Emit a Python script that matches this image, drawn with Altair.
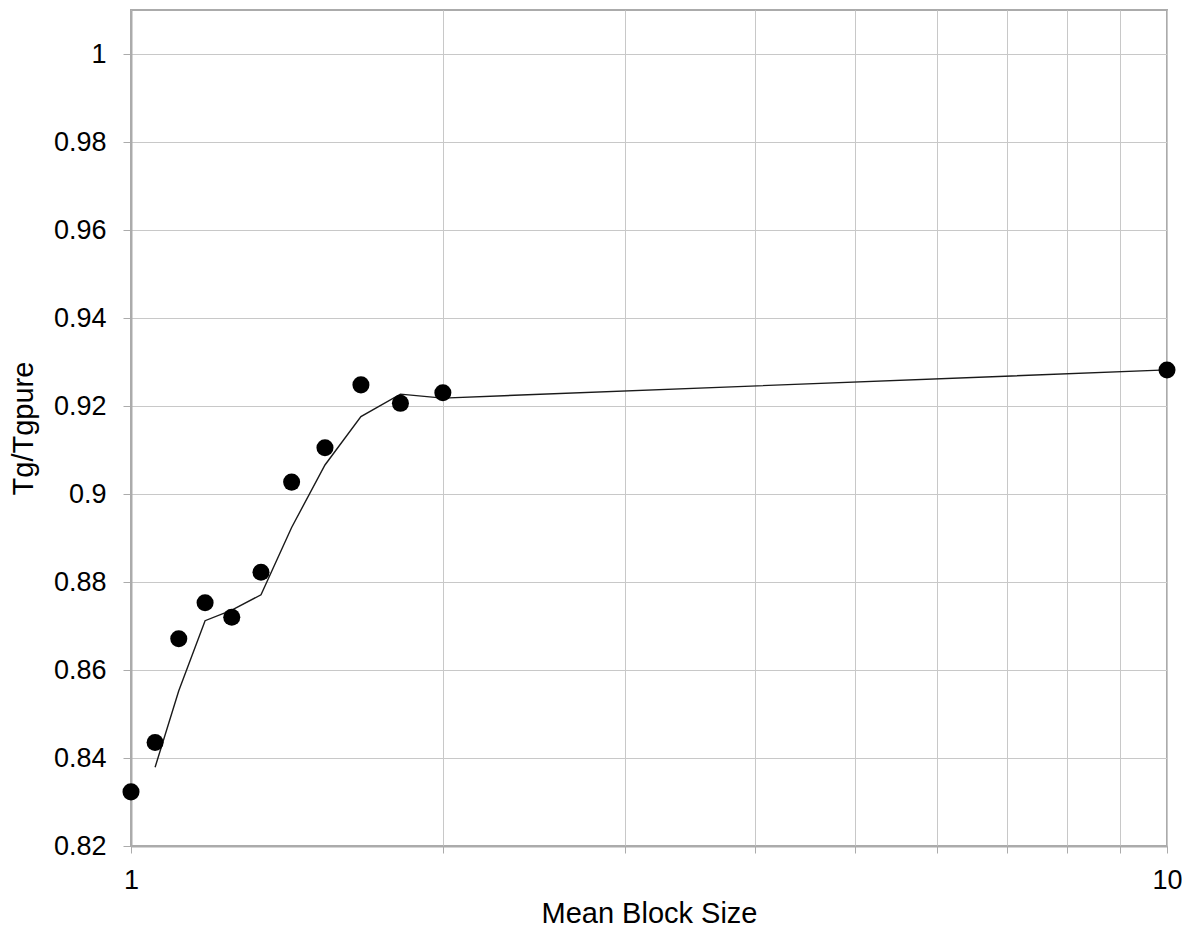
import altair as alt
import pandas as pd

# Measured data points (Mean Block Size vs Tg/Tgpure)
block_size = [1.0, 1.055, 1.112, 1.179, 1.251, 1.335, 1.429, 1.539, 1.667, 1.820, 2.0, 10.0]
tg_ratio = [0.8323, 0.8435, 0.8671, 0.8753, 0.8720, 0.8822, 0.9027, 0.9105, 0.9248, 0.9206, 0.9230, 0.9282]

# Trend line vertices
trend_x = [1.055, 1.112, 1.179, 1.251, 1.335, 1.429, 1.539, 1.667, 1.820, 2.0, 10.0]
trend_y = [0.8379, 0.8553, 0.8712, 0.8736, 0.8771, 0.8924, 0.9066, 0.9176, 0.9227, 0.9218, 0.9282]

y_ticks = [0.82, 0.84, 0.86, 0.88, 0.90, 0.92, 0.94, 0.96, 0.98, 1.0]
x_ticks = [1, 2, 3, 4, 5, 6, 7, 8, 9, 10]

pts = pd.DataFrame({"x": block_size, "y": tg_ratio})
trend = pd.DataFrame({"x": trend_x, "y": trend_y})

FONT = "Liberation Sans"
GRID = "#c8c8c8"
BORDER = "#ababab"

x_enc = alt.X(
    "x:Q",
    scale=alt.Scale(type="log", domain=[1, 10], nice=False),
    axis=alt.Axis(
        title="Mean Block Size",
        values=x_ticks,
        labelExpr="(datum.value == 1 || datum.value == 10) ? format(datum.value, '~g') : ''",
        grid=True,
        gridColor=GRID,
        gridWidth=1,
        domainColor=BORDER,
        domainWidth=2,
        tickColor=BORDER,
        tickSize=7,
        labelPadding=14,
        labelFont=FONT,
        labelFontSize=27,
        labelColor="#000000",
        labelFlush=False,
        labelOverlap=False,
        titleFont=FONT,
        titleFontSize=29,
        titleFontWeight="normal",
        titleColor="#000000",
        titleX=518,
        titleY=76,
        titleBaseline="alphabetic",
        titleAlign="center",
    ),
)

y_enc = alt.Y(
    "y:Q",
    scale=alt.Scale(domain=[0.82, 1.01], nice=False, zero=False),
    axis=alt.Axis(
        title="Tg/Tgpure",
        values=y_ticks,
        format=".2~f",
        grid=True,
        gridColor=GRID,
        gridWidth=1,
        domainColor=BORDER,
        domainWidth=2,
        tickColor=BORDER,
        tickSize=8,
        labelPadding=17,
        labelFont=FONT,
        labelFontSize=27,
        labelColor="#000000",
        labelOverlap=False,
        titleFont=FONT,
        titleFontSize=29,
        titleFontWeight="normal",
        titleColor="#000000",
        titleX=-99,
        titleY=418,
        titleAngle=270,
        titleBaseline="alphabetic",
        titleAlign="center",
    ),
)

line = alt.Chart(trend).mark_line(color="#1a1a1a", strokeWidth=1.4).encode(x=x_enc, y=y_enc)
points = alt.Chart(pts).mark_circle(color="#000000", opacity=1, size=290).encode(x=x_enc, y=y_enc)

chart = (
    alt.layer(line, points)
    .properties(
        width=1036,
        height=836,
        background="white",
        autosize=alt.AutoSizeParams(type="none"),
        padding={"left": 123, "top": 2, "right": 15, "bottom": 83},
    )
    .configure_view(stroke=BORDER, strokeWidth=2)
)

chart.save("out.html", embed_options={"renderer": "svg", "actions": False})
